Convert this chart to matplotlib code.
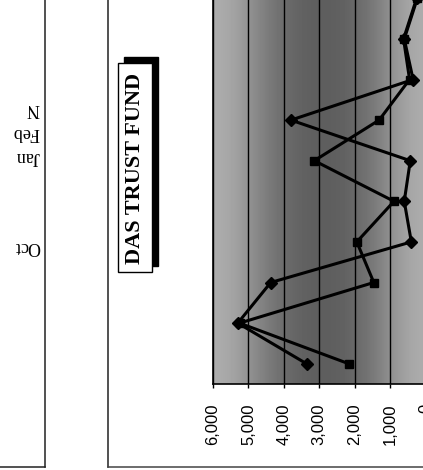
import matplotlib
matplotlib.use("Agg")
import matplotlib.pyplot as plt
from matplotlib.patches import Rectangle
import numpy as np

series_a = [3360, 5300, 4370, 400, 600, 430, 3800, 350, 600, 230]
series_b = [2170, 5250, 1460, 1940, 890, 3140, 1310, 450, 620, 250]
value_ticks = [0, 1000, 2000, 3000, 4000, 5000, 6000]
side_labels = ["N", "Feb", "Jan", "Oct"]
side_label_y = [108, 133, 157, 246]
title = "DAS TRUST FUND"

W, H = 423, 470
fig = plt.figure(figsize=(W / 100, H / 100), dpi=100)
fig.patch.set_facecolor("white")

# overlay in pixel coordinates for the page furniture
deco = fig.add_axes([0, 0, 1, 1])
deco.set_xlim(0, W)
deco.set_ylim(H, 0)
deco.axis("off")
deco.plot([45, 45], [0, 467], color="#222222", lw=1.1)
deco.plot([0, 45], [467, 467], color="#222222", lw=1.1)
deco.plot([108, 108], [0, 467], color="#222222", lw=1.1)
deco.plot([108, 423], [467, 467], color="#444444", lw=1.1)
for lab, yy in zip(side_labels, side_label_y):
    deco.text(40, yy, lab, rotation=180, ha="right", va="center",
              family="Liberation Serif", fontsize=13)
# title box with drop shadow
deco.add_patch(Rectangle((124, 57), 34, 209, facecolor="black", edgecolor="black"))
deco.add_patch(Rectangle((118, 63), 34, 209, facecolor="white", edgecolor="black", lw=1))
deco.text(135.5, 168, title, rotation=90, ha="center", va="center",
          family="Liberation Serif", weight="bold", fontsize=16)

# the chart itself, drawn sideways: value on x (inverted), month on y
left = 213 / W
width = 212.5 / W
bottom = (H - 384) / H
step = 40.6
n = len(series_a)
height = step * n / H
ax = fig.add_axes([left, bottom, width, height])
ax.set_xlim(6000, 0)
ax.set_ylim(0, n)

shade = np.array([[0.68, 0.52, 0.40, 0.36, 0.38, 0.50, 0.68]])
ax.imshow(shade, cmap="gray", vmin=0, vmax=1, extent=[6000, 0, 0, n],
          aspect="auto", interpolation="bicubic", zorder=0)

pos = np.arange(n) + 0.5
ax.plot(series_a, pos, color="black", lw=2.2, marker="D", ms=6, zorder=3)
ax.plot(series_b, pos, color="black", lw=2.2, marker="s", ms=6, zorder=3)

ax.set_xticks(value_ticks)
ax.set_xticklabels([f"{v:,}" for v in value_ticks])
ax.xaxis.grid(True, color="black", lw=1)
ax.set_axisbelow(False)
ax.set_yticks([])
ax.tick_params(axis="x", direction="out", length=3, width=1, pad=11,
               labelrotation=90, labelsize=12)
for lbl in ax.get_xticklabels():
    lbl.set_family("Liberation Sans")
for s in ["top", "right"]:
    ax.spines[s].set_visible(False)
ax.spines["left"].set_linewidth(1.2)
ax.spines["bottom"].set_linewidth(1.2)

fig.savefig("out.png", dpi=100)
